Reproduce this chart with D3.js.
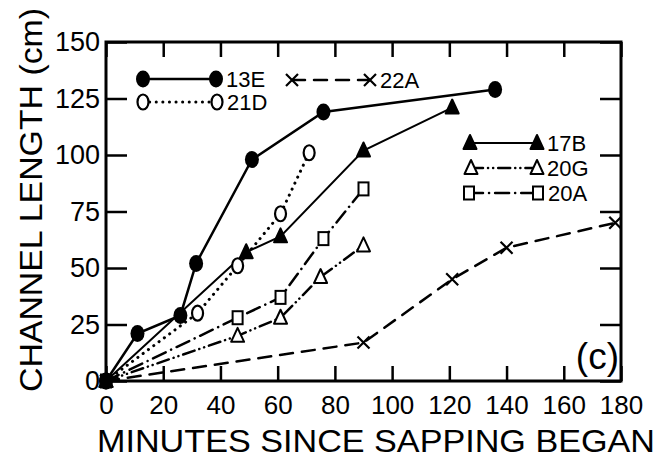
<!DOCTYPE html>
<html>
<head>
<meta charset="utf-8">
<script src="https://cdn.jsdelivr.net/npm/d3@7"></script>
<style>
  body { margin: 0; background: #fff; }
  text { font-family: "Liberation Sans", Arial, sans-serif; fill: #000; }
</style>
</head>
<body>
<div id="chart-area"></div>
<script>
// data (minutes, cm)
const xTicks = [0, 20, 40, 60, 80, 100, 120, 140, 160, 180]
const yTicks = [0, 25, 50, 75, 100, 125, 150]

const s13E = [[0, 0], [11, 21], [26, 29], [31.5, 52], [51, 98], [76, 119], [136, 129]]
const s21D = [[0, 0], [32, 30], [46, 51], [61, 74], [71, 101]]
const s17B = [[0, 0], [49, 57], [61, 64], [90, 102], [121, 121]]
const s20G = [[0, 0], [46, 20], [61, 28], [75, 46], [90, 60]]
const s20A = [[0, 0], [46, 28], [61, 37], [76, 63], [90, 85]]
const s22A = [[0, 0], [90, 17], [121, 45], [140, 59], [178, 70]]

const seriesNames = ["13E", "21D", "17B", "20G", "20A", "22A"]

const W = 667, H = 461

const svg = d3.select("#chart-area").append("svg")
  .attr("width", W)
  .attr("height", H)

// Scales
const x = d3.scaleLinear().domain([0, 180]).range([106, 621])
const y = d3.scaleLinear().domain([0, 150]).range([381, 42])

// line styles + markers for each series
const styles = {
  "13E": { marker: "dot",    width: 2.5, dash: null },
  "21D": { marker: "ring",   width: 3,   dash: "0.1,6.5" },
  "17B": { marker: "tri",    width: 2,   dash: null },
  "20G": { marker: "opentri", width: 2.5, dash: "12,5,0.1,5,0.1,5" },
  "20A": { marker: "square", width: 2.5, dash: "14,6,0.1,6" },
  "22A": { marker: "cross",  width: 2.5, dash: "13,9" }
}
const dataByName = { "13E": s13E, "21D": s21D, "17B": s17B, "20G": s20G, "20A": s20A, "22A": s22A }

function drawMarker(sel, type, cx, cy) {
  if (type === "dot") {
    sel.append("ellipse").attr("cx", cx).attr("cy", cy).attr("rx", 7).attr("ry", 8.5)
      .attr("fill", "#000")
  } else if (type === "ring") {
    sel.append("ellipse").attr("cx", cx).attr("cy", cy).attr("rx", 5.5).attr("ry", 7.5)
      .attr("fill", "#fff").attr("stroke", "#000").attr("stroke-width", 2.2)
  } else if (type === "tri" || type === "opentri") {
    const p = `M${cx},${cy - 8} L${cx + 6.5},${cy + 6} L${cx - 6.5},${cy + 6} Z`
    sel.append("path").attr("d", p)
      .attr("fill", type === "tri" ? "#000" : "#fff")
      .attr("stroke", "#000").attr("stroke-width", 2).attr("stroke-linejoin", "round")
  } else if (type === "square") {
    sel.append("rect").attr("x", cx - 5).attr("y", cy - 6.5).attr("width", 10).attr("height", 13)
      .attr("fill", "#fff").attr("stroke", "#000").attr("stroke-width", 2)
  } else if (type === "cross") {
    const p = `M${cx - 6},${cy - 6} L${cx + 6},${cy + 6} M${cx + 6},${cy - 6} L${cx - 6},${cy + 6}`
    sel.append("path").attr("d", p).attr("stroke", "#000").attr("stroke-width", 2.2)
  }
}

// frame
svg.append("rect")
  .attr("x", x(0)).attr("y", y(150))
  .attr("width", x(180) - x(0)).attr("height", y(0) - y(150))
  .attr("fill", "none").attr("stroke", "#000").attr("stroke-width", 3)

// Axes (ticks point inward, mirrored on top and right)
const xAxisCall = d3.axisBottom(x).tickValues(xTicks).tickSizeInner(-15).tickSizeOuter(0).tickPadding(15)
const yAxisCall = d3.axisLeft(y).tickValues(yTicks).tickSizeInner(-21).tickSizeOuter(0).tickPadding(6)

const xAxisG = svg.append("g").attr("transform", `translate(0,${y(0)})`).call(xAxisCall)
const yAxisG = svg.append("g").attr("transform", `translate(${x(0)},0)`).call(yAxisCall)
svg.append("g").attr("transform", `translate(0,${y(150)})`)
  .call(d3.axisTop(x).tickValues(xTicks).tickSizeInner(-15).tickSizeOuter(0).tickFormat(""))
svg.append("g").attr("transform", `translate(${x(180)},0)`)
  .call(d3.axisRight(y).tickValues(yTicks).tickSizeInner(-21).tickSizeOuter(0).tickFormat(""))

svg.selectAll(".domain").remove()
svg.selectAll(".tick line").attr("stroke", "#000").attr("stroke-width", 2.5)
xAxisG.selectAll("text").attr("font-size", "26px").attr("fill", "#000")
yAxisG.selectAll("text").attr("font-size", "27px").attr("fill", "#000")

// axis titles
svg.append("text")
  .attr("x", 97).attr("y", 452)
  .attr("font-size", "31px")
  .attr("textLength", 558).attr("lengthAdjust", "spacingAndGlyphs")
  .text("MINUTES SINCE SAPPING BEGAN")

svg.append("text")
  .attr("transform", "translate(42,392) rotate(-90)")
  .attr("font-size", "31px")
  .attr("textLength", 384).attr("lengthAdjust", "spacingAndGlyphs")
  .text("CHANNEL LENGTH (cm)")

svg.append("text")
  .attr("x", 619).attr("y", 369)
  .attr("text-anchor", "end")
  .attr("font-size", "37px")
  .text("(c)")

// lines
const line = d3.line().x(d => x(d[0])).y(d => y(d[1]))
const order = ["22A", "20G", "20A", "21D", "17B", "13E"]
order.forEach(name => {
  const st = styles[name]
  svg.append("path")
    .datum(dataByName[name])
    .attr("d", line)
    .attr("fill", "none")
    .attr("stroke", "#000")
    .attr("stroke-width", st.width)
    .attr("stroke-linecap", st.dash ? "round" : "butt")
    .attr("stroke-dasharray", st.dash)
})

// markers (open ones first, filled on top)
const mg = svg.append("g")
order.forEach(name => {
  dataByName[name].forEach(d => drawMarker(mg, styles[name].marker, x(d[0]), y(d[1])))
})

// legend
const legendRows = [
  { name: "13E", x1: 143, x2: 216, y: 79 },
  { name: "21D", x1: 143, x2: 217, y: 102 },
  { name: "22A", x1: 292, x2: 370, y: 80 },
  { name: "17B", x1: 470, x2: 537, y: 143 },
  { name: "20G", x1: 471, x2: 537, y: 168 },
  { name: "20A", x1: 469, x2: 538, y: 193 }
]
const legend = svg.append("g")
legendRows.forEach(r => {
  const st = styles[r.name]
  legend.append("line")
    .attr("x1", r.x1).attr("x2", r.x2).attr("y1", r.y).attr("y2", r.y)
    .attr("stroke", "#000").attr("stroke-width", st.width)
    .attr("stroke-linecap", st.dash ? "round" : "butt")
    .attr("stroke-dasharray", st.dash)
  drawMarker(legend, st.marker, r.x1, r.y)
  drawMarker(legend, st.marker, r.x2, r.y)
  legend.append("text")
    .attr("x", r.x2 + 10).attr("y", r.y + 8)
    .attr("font-size", "22px")
    .text(r.name)
})
</script>
</body>
</html>
